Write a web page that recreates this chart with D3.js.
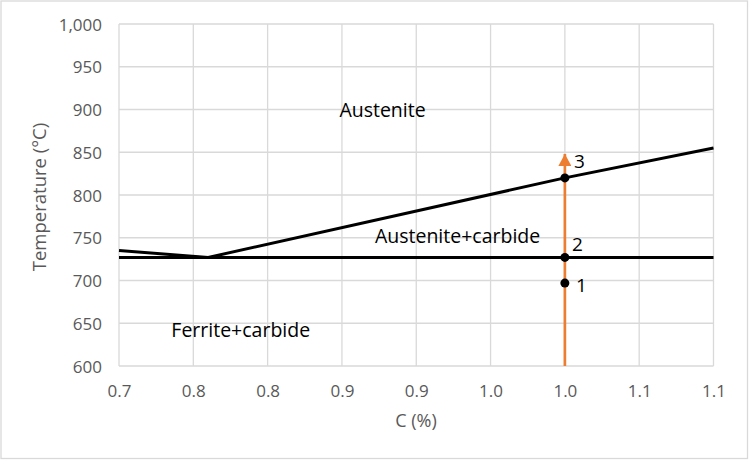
<!DOCTYPE html>
<html><head><meta charset="utf-8">
<script src="https://cdn.jsdelivr.net/npm/d3@7"></script>
<style>
html,body{margin:0;padding:0;background:#fff;}
svg{display:block;font-family:"Open Sans",sans-serif;}
</style></head>
<body><svg id="chart" width="750" height="460"></svg>
<script>
// ---- data ----
const xTicks = [0.7, 0.75, 0.8, 0.85, 0.9, 0.95, 1.0, 1.05, 1.1];
const xTickLabels = ["0.7", "0.8", "0.8", "0.9", "0.9", "1.0", "1.0", "1.1", "1.1"];
const yTicks = [600, 650, 700, 750, 800, 850, 900, 950, 1000];
const yTickLabels = ["600", "650", "700", "750", "800", "850", "900", "950", "1,000"];

const boundaryC = [0.7, 0.76, 1.0, 1.1];
const boundaryT = [735, 727, 820, 855];
const eutectoidC = [0.7, 1.1];
const eutectoidT = [727, 727];
const heatingC = [1.0, 1.0];
const heatingT = [600, 848];
const pointC = [1.0, 1.0, 1.0];
const pointT = [697, 727, 820];
const pointLabels = ["1", "2", "3"];
const regionNames = ["Austenite", "Austenite+carbide", "Ferrite+carbide"];
const regionC = [0.8773, 0.9278, 0.7819];
const regionT = [891, 743.5, 634.3];
const xTitle = "C (%)";
const yTitle = "Temperature (°C)";

// ---- drawing ----
const svg = d3.select("#chart");
const W = 750, H = 460;
const plot = {left: 119, right: 713.5, top: 24, bottom: 366};
const x = d3.scaleLinear().domain([0.7, 1.1]).range([plot.left, plot.right]);
const y = d3.scaleLinear().domain([600, 1000]).range([plot.bottom, plot.top]);

svg.append("rect").attr("x", 1).attr("y", 1).attr("width", W - 3.5).attr("height", H - 2.5)
  .attr("fill", "#fff").attr("stroke", "#d9d9d9").attr("stroke-width", 1.3);

// gridlines
const grid = svg.append("g").attr("stroke", "#d9d9d9").attr("stroke-width", 1.3);
grid.selectAll("line.v").data(xTicks).join("line").attr("class", "v")
  .attr("x1", d => x(d)).attr("x2", d => x(d)).attr("y1", plot.top).attr("y2", plot.bottom);
grid.selectAll("line.h").data(yTicks).join("line").attr("class", "h")
  .attr("x1", plot.left).attr("x2", plot.right).attr("y1", d => y(d)).attr("y2", d => y(d));

// axes (labels only)
const xAxis = d3.axisBottom(x).tickValues(xTicks).tickSize(0).tickPadding(0)
  .tickFormat((d, i) => xTickLabels[i]);
const gx = svg.append("g").attr("transform", `translate(0,${plot.bottom})`).call(xAxis);
gx.select(".domain").remove();
gx.selectAll("text").attr("fill", "#595959").attr("font-size", 17)
  .attr("font-family", "Open Sans").attr("dy", null).attr("y", 31);

const yAxis = d3.axisLeft(y).tickValues(yTicks).tickSize(0).tickPadding(0)
  .tickFormat((d, i) => yTickLabels[i]);
const gy = svg.append("g").attr("transform", `translate(${102},0)`).call(yAxis);
gy.select(".domain").remove();
gy.selectAll("text").attr("fill", "#595959").attr("font-size", 17)
  .attr("font-family", "Open Sans").attr("x", 0).attr("dy", "0.36em");

// axis titles
svg.append("text").attr("x", 416).attr("y", 427).attr("text-anchor", "middle")
  .attr("fill", "#595959").attr("font-size", 18).text(xTitle);
svg.append("text").attr("transform", "translate(46,197) rotate(-90)").attr("text-anchor", "middle")
  .attr("fill", "#595959").attr("font-size", 18.5).text(yTitle);

// lines
const line = d3.line().x(d => x(d[0])).y(d => y(d[1]));
svg.append("path").datum(d3.zip(eutectoidC, eutectoidT)).attr("d", line)
  .attr("fill", "none").attr("stroke", "#000").attr("stroke-width", 3);
svg.append("path").datum(d3.zip(boundaryC, boundaryT)).attr("d", line)
  .attr("fill", "none").attr("stroke", "#000").attr("stroke-width", 3).attr("stroke-linejoin", "round");

// heating arrow
const defs = svg.append("defs");
defs.append("marker").attr("id", "arr").attr("markerUnits", "userSpaceOnUse")
  .attr("viewBox", "0 0 12 13").attr("refX", 12).attr("refY", 6.5)
  .attr("markerWidth", 12).attr("markerHeight", 13).attr("orient", "auto")
  .append("path").attr("d", "M0,0 L12,6.5 L0,13 Z").attr("fill", "#ED7D31");
svg.append("path").datum(d3.zip(heatingC, heatingT)).attr("d", line)
  .attr("fill", "none").attr("stroke", "#ED7D31").attr("stroke-width", 2.7)
  .attr("marker-end", "url(#arr)");

// points
const pts = d3.zip(pointC, pointT, pointLabels);
svg.selectAll("circle.pt").data(pts).join("circle").attr("class", "pt")
  .attr("cx", d => x(d[0])).attr("cy", d => y(d[1])).attr("r", 4.5).attr("fill", "#000");
const labOff = [[11, 9], [7, -6], [9, -10]];
svg.selectAll("text.pl").data(pts).join("text").attr("class", "pl")
  .attr("x", (d, i) => x(d[0]) + labOff[i][0]).attr("y", (d, i) => y(d[1]) + labOff[i][1])
  .attr("font-size", 19).attr("fill", "#000").text(d => d[2]);

// region labels
svg.selectAll("text.rg").data(d3.zip(regionC, regionT, regionNames)).join("text").attr("class", "rg")
  .attr("x", d => x(d[0])).attr("y", d => y(d[1])).attr("text-anchor", "middle")
  .attr("font-size", 19.5).attr("fill", "#000").text(d => d[2]);
</script></body></html>
